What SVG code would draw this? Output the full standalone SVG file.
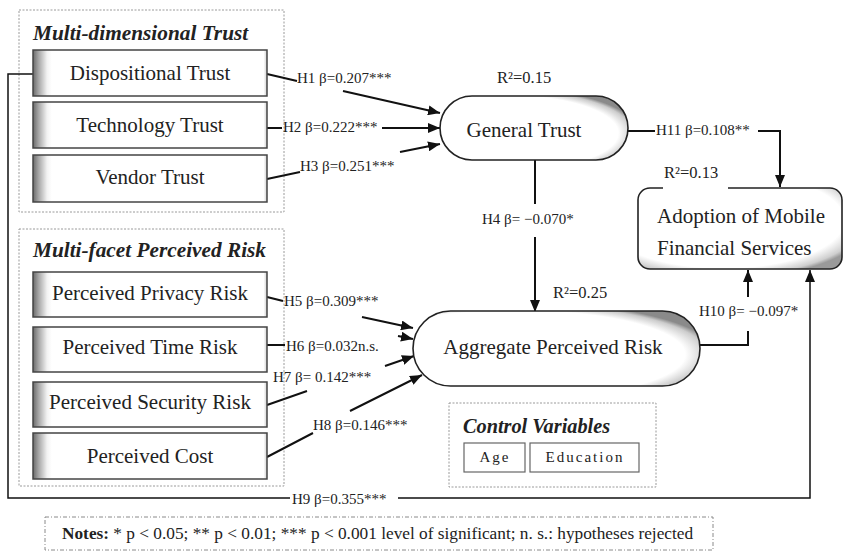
<svg xmlns="http://www.w3.org/2000/svg" width="844" height="553" viewBox="0 0 844 553">
<defs>
<linearGradient id="bg" x1="0" y1="0" x2="1" y2="0">
<stop offset="0" stop-color="#6a6a6a"/>
<stop offset="0.025" stop-color="#a8a8a8"/>
<stop offset="0.06" stop-color="#f2f2f2"/>
<stop offset="0.08" stop-color="#ffffff"/>
<stop offset="0.985" stop-color="#ffffff"/>
<stop offset="1" stop-color="#d0d0d0"/>
</linearGradient>
<radialGradient id="pg" cx="0.36" cy="0.58" r="0.7">
<stop offset="0" stop-color="#ffffff"/>
<stop offset="0.84" stop-color="#ffffff"/>
<stop offset="0.95" stop-color="#cccccc"/>
<stop offset="1" stop-color="#8a8a8a"/>
</radialGradient>
<radialGradient id="ag" cx="0.42" cy="0.4" r="0.72">
<stop offset="0" stop-color="#ffffff"/>
<stop offset="0.82" stop-color="#ffffff"/>
<stop offset="0.95" stop-color="#cfcfcf"/>
<stop offset="1" stop-color="#9a9a9a"/>
</radialGradient>
<marker id="ah" viewBox="0 0 12 10" refX="12" refY="5" markerWidth="12" markerHeight="10" markerUnits="userSpaceOnUse" orient="auto">
<path d="M0,0 L12,5 L0,10 z" fill="#111"/>
</marker>
</defs>
<style>
text{font-family:"Liberation Serif","Times New Roman",serif;fill:#222}
.box{fill:url(#bg);stroke:#444;stroke-width:1.5}
.pill{fill:url(#pg);stroke:#222;stroke-width:1.6}
.nl{font-size:21px;text-anchor:middle}
.lbl{font-size:15px}
.r2{font-size:16.5px}
.grp{fill:none;stroke:#9a9a9a;stroke-width:1;stroke-dasharray:2 1.5}
.ttl{font-size:21.3px;font-weight:bold;font-style:italic}
.c{fill:none;stroke:#111;stroke-width:2}
.cv{fill:#fff;stroke:#666;stroke-width:1.2}
.cvt{font-size:15px;letter-spacing:2px;text-anchor:middle}
</style>
<rect width="844" height="553" fill="#ffffff"/>

<g id="group-trust">
<rect class="grp" x="19" y="10" width="265" height="202"/>
<text class="ttl" x="33" y="40">Multi-dimensional Trust</text>
</g>
<g id="group-risk">
<rect class="grp" x="19" y="229" width="265" height="257"/>
<text class="ttl" x="33" y="257">Multi-facet Perceived Risk</text>
</g>

<g id="connectors">
<path class="c" d="M267,74 L297,81 M343,91 L440,113" marker-end="url(#ah)"/>
<path class="c" d="M267,128 H282 M382,128 H440" marker-end="url(#ah)"/>
<path class="c" d="M267,179 L300,172 M400,152 L440,144" marker-end="url(#ah)"/>
<path class="c" d="M628,131 H655 M758,131 H780 V187" marker-end="url(#ah)"/>
<path class="c" d="M535,160 V204 M535,237 V312" marker-end="url(#ah)"/>
<path class="c" d="M267,297 L283,301 M362,317 L413,328" marker-end="url(#ah)"/>
<path class="c" d="M267,345 H285 M398,336 L413,339" marker-end="url(#ah)"/>
<path class="c" d="M267,405 L307,391 M385,366 L414,356" marker-end="url(#ah)"/>
<path class="c" d="M267,457 L313,433 M350,411 L422,375" marker-end="url(#ah)"/>
<path class="c" d="M700,345 H748 V331 M748,297 V270" marker-end="url(#ah)"/>
<path class="c" style="stroke-width:1.5" d="M33,74 H8 V498 H290 M398,498 H810 V270" marker-end="url(#ah)"/>
</g>

<g id="labels">
<text class="lbl" x="297" y="83">H1 β=0.207***</text>
<text class="lbl" x="283" y="132">H2 β=0.222***</text>
<text class="lbl" x="300" y="171">H3 β=0.251***</text>
<text class="lbl" x="482" y="224">H4 β= −0.070*</text>
<text class="lbl" x="284" y="306">H5 β=0.309***</text>
<text class="lbl" x="286" y="351">H6 β=0.032n.s.</text>
<text class="lbl" x="273" y="382">H7 β= 0.142***</text>
<text class="lbl" x="313" y="430">H8 β=0.146***</text>
<text class="lbl" x="292" y="504">H9 β=0.355***</text>
<text class="lbl" x="699" y="316">H10 β= −0.097*</text>
<text class="lbl" x="656" y="135">H11 β=0.108**</text>
<text class="r2" x="497" y="83">R²=0.15</text>
<text class="r2" x="664" y="178">R²=0.13</text>
<text class="r2" x="553" y="298">R²=0.25</text>
</g>

<g id="node-dispositional">
<rect class="box" x="33" y="50" width="234" height="46"/>
<text class="nl" x="150" y="80">Dispositional Trust</text>
</g>
<g id="node-technology">
<rect class="box" x="33" y="102" width="234" height="46"/>
<text class="nl" x="150" y="132">Technology Trust</text>
</g>
<g id="node-vendor">
<rect class="box" x="33" y="155" width="234" height="47"/>
<text class="nl" x="150" y="184">Vendor Trust</text>
</g>
<g id="node-privacy">
<rect class="box" x="33" y="272" width="234" height="45"/>
<text class="nl" x="150" y="300">Perceived Privacy Risk</text>
</g>
<g id="node-time">
<rect class="box" x="33" y="327" width="234" height="45"/>
<text class="nl" x="150" y="354">Perceived Time Risk</text>
</g>
<g id="node-security">
<rect class="box" x="33" y="382" width="234" height="45"/>
<text class="nl" x="150" y="409">Perceived Security Risk</text>
</g>
<g id="node-cost">
<rect class="box" x="33" y="433" width="234" height="46"/>
<text class="nl" x="150" y="463">Perceived Cost</text>
</g>

<g id="node-general-trust">
<rect class="pill" x="440" y="96" width="188" height="64" rx="32"/>
<text class="nl" x="524" y="137">General Trust</text>
</g>
<g id="node-aggregate-risk">
<rect class="pill" x="413" y="311" width="287" height="75" rx="37.5"/>
<text class="nl" x="553" y="354">Aggregate Perceived Risk</text>
</g>
<g id="node-adoption">
<rect x="638" y="188" width="204" height="81" rx="12" fill="url(#ag)" stroke="#222" stroke-width="1.6"/>
<rect x="663" y="185" width="65" height="6" fill="#fff"/>
<text style="font-size:21px" x="657" y="223">Adoption of Mobile</text>
<text style="font-size:21px" x="657" y="255">Financial Services</text>
</g>

<g id="node-control">
<rect class="grp" x="449" y="403" width="207" height="84"/>
<text class="ttl" style="font-size:20.3px" x="463" y="433">Control Variables</text>
<rect class="cv" x="464" y="443" width="61" height="29"/>
<text class="cvt" x="495" y="462">Age</text>
<rect class="cv" x="530" y="443" width="109" height="29"/>
<text class="cvt" x="585" y="462">Education</text>
</g>

<g id="notes">
<rect x="45" y="517" width="668" height="33" fill="none" stroke="#8a8a8a" stroke-width="1" stroke-dasharray="4 2 1 2"/>
<text style="font-size:17.3px" x="62" y="539"><tspan font-weight="bold">Notes:</tspan> * p &lt; 0.05; ** p &lt; 0.01; *** p &lt; 0.001 level of significant; n. s.: hypotheses rejected</text>
</g>
</svg>
